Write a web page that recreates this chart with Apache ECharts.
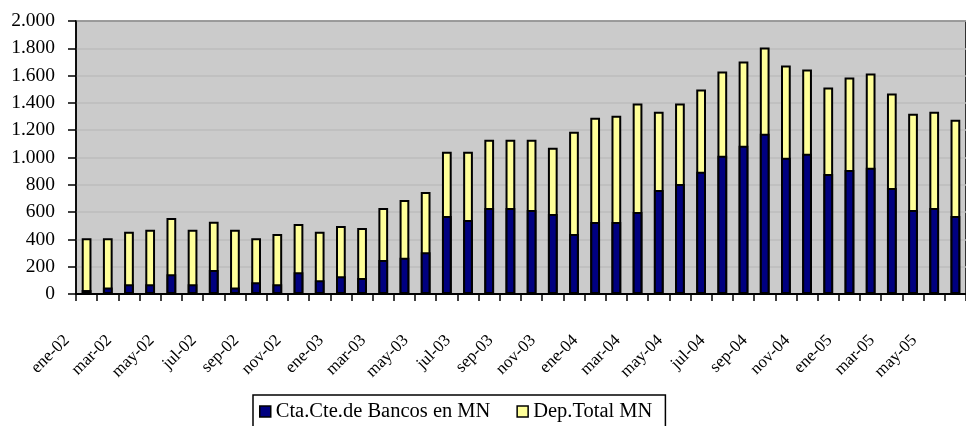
<!DOCTYPE html>
<html>
<head>
<meta charset="utf-8">
<script src="https://cdn.jsdelivr.net/npm/echarts@6/dist/echarts.min.js"></script>
<style>
  html, body { margin: 0; padding: 0; background: #fff; }
  #chart { width: 966px; height: 426px; }
</style>
</head>
<body>
<div id="chart"></div>
<script>
const months = [
  'ene-02', 'feb-02', 'mar-02', 'abr-02', 'may-02', 'jun-02', 'jul-02', 'ago-02', 'sep-02', 'oct-02', 'nov-02', 'dic-02',
  'ene-03', 'feb-03', 'mar-03', 'abr-03', 'may-03', 'jun-03', 'jul-03', 'ago-03', 'sep-03', 'oct-03', 'nov-03', 'dic-03',
  'ene-04', 'feb-04', 'mar-04', 'abr-04', 'may-04', 'jun-04', 'jul-04', 'ago-04', 'sep-04', 'oct-04', 'nov-04', 'dic-04',
  'ene-05', 'feb-05', 'mar-05', 'abr-05', 'may-05', 'jun-05'
];

// Cta.Cte. de Bancos en MN
const ctaCte = [
  29, 47, 71, 71, 145, 71, 176, 47, 86, 71, 159, 100,
  130, 118, 250, 265, 306, 571, 542, 630, 630, 615, 586, 439,
  527, 527, 600, 762, 806, 895, 1012, 1086, 1174, 998, 1027, 880,
  909, 924, 777, 615, 630, 571
];

// Dep.Total MN
const depTotal = [
  409, 409, 456, 471, 556, 471, 529, 471, 409, 439, 512, 456,
  498, 483, 630, 689, 748, 1042, 1042, 1130, 1130, 1130, 1071, 1189,
  1292, 1306, 1395, 1336, 1395, 1498, 1630, 1703, 1806, 1674, 1645, 1512,
  1586, 1615, 1468, 1321, 1336, 1277
];

const yTicks = { min: 0, max: 2000, step: 200 };

const FONT = '"Liberation Serif", "Times New Roman", serif';
const chart = echarts.init(document.getElementById('chart'), null, { renderer: 'canvas' });

const fmtThousands = (v) => String(v).replace(/\B(?=(\d{3})+(?!\d))/g, '.');

const option = {
  animation: false,
  backgroundColor: '#fff',
  textStyle: { fontFamily: FONT },
  grid: {
    left: 76,
    right: -9,
    top: 21,
    bottom: 132,
    show: true,
    backgroundColor: '#cbcbcb',
    borderColor: '#000',
    borderWidth: 1.5
  },
  legend: {
    data: ['Cta.Cte.de Bancos en MN', 'Dep.Total MN'],
    left: 253,
    top: 395,
    orient: 'horizontal',
    padding: [6, 13, 14, 6],
    itemGap: 26,
    itemWidth: 11,
    itemHeight: 11,
    icon: 'rect',
    borderColor: '#000',
    borderWidth: 1.5,
    backgroundColor: '#fff',
    itemStyle: { borderColor: '#000', borderWidth: 1.5 },
    textStyle: { fontFamily: FONT, fontSize: 20.5, color: '#000' }
  },
  xAxis: {
    type: 'category',
    data: months,
    boundaryGap: true,
    axisLine: { lineStyle: { color: '#000', width: 2 } },
    axisTick: { show: true, interval: 0, length: 7, lineStyle: { color: '#000', width: 1.5 } },
    axisLabel: {
      interval: 1,
      rotate: 45,
      margin: 24,
      padding: [0, 28, 0, 0],
      fontFamily: FONT,
      fontSize: 17,
      color: '#000'
    },
    splitLine: { show: false }
  },
  yAxis: {
    type: 'value',
    min: yTicks.min,
    max: yTicks.max,
    interval: yTicks.step,
    axisLine: { show: true, lineStyle: { color: '#000', width: 1.5 } },
    axisTick: { show: true, length: 8, lineStyle: { color: '#000', width: 1.5 } },
    axisLabel: {
      margin: 21,
      fontFamily: FONT,
      fontSize: 19.5,
      color: '#000',
      formatter: fmtThousands
    },
    splitLine: { show: true, lineStyle: { color: '#bcbcbc', width: 1.5 } }
  },
  series: [
    {
      name: 'Dep.Total MN',
      type: 'bar',
      data: depTotal,
      barWidth: '46%',
      barGap: '-100%',
      z: 2,
      itemStyle: { color: '#ffff99', borderColor: '#000', borderWidth: 2 }
    },
    {
      name: 'Cta.Cte.de Bancos en MN',
      type: 'bar',
      data: ctaCte,
      barWidth: '46%',
      barGap: '-100%',
      z: 3,
      itemStyle: { color: '#000080', borderColor: '#000', borderWidth: 2 }
    }
  ]
};

chart.setOption(option);
</script>
</body>
</html>
